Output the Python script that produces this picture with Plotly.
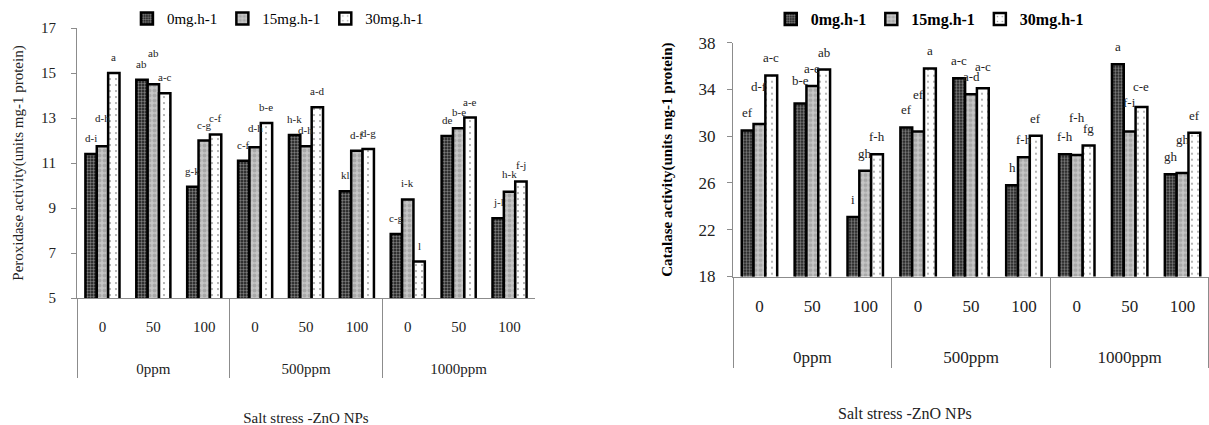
import plotly.graph_objects as go
from plotly.subplots import make_subplots

# ---------------- data ----------------
salt_groups = ["0ppm", "500ppm", "1000ppm"]
zno_levels = ["0", "50", "100"]
series_names = ["0mg.h-1", "15mg.h-1", "30mg.h-1"]

pod_0mg = [11.4, 14.7, 9.95, 11.1, 12.25, 9.75, 7.85, 12.2, 8.55]
pod_15mg = [11.75, 14.5, 12.0, 11.7, 11.75, 11.55, 9.38, 12.55, 9.72]
pod_30mg = [15.0, 14.1, 12.27, 12.78, 13.48, 11.62, 6.62, 13.02, 10.18]

pod_lab_0mg = ["d-i", "ab", "g-k", "c-f", "h-k", "kl", "c-g", "de", "j-l"]
pod_lab_15mg = ["d-h", "ab", "c-g", "d-h", "d-h", "d-f", "i-k", "b-e", "h-k"]
pod_lab_30mg = ["a", "a-c", "c-f", "b-e", "a-d", "d-g", "l", "a-e", "f-j"]

cat_0mg = [30.5, 32.8, 23.1, 30.75, 34.95, 25.8, 28.45, 36.15, 26.75]
cat_15mg = [31.05, 34.3, 27.05, 30.4, 33.6, 28.2, 28.4, 30.4, 26.85]
cat_30mg = [35.2, 35.7, 28.45, 35.8, 34.1, 30.05, 29.2, 32.5, 30.3]

cat_lab_0mg = ["ef", "b-e", "i", "ef", "a-c", "h", "f-h", "a", "gh"]
cat_lab_15mg = ["d-f", "a-e", "gh", "ef", "a-d", "f-h", "f-h", "f-i", "gh"]
cat_lab_30mg = ["a-c", "ab", "f-h", "a", "a-c", "ef", "fg", "c-e", "ef"]

x_title = "Salt stress -ZnO NPs"

# ---------------- styling ----------------
FONT = "Liberation Serif, Times New Roman, serif"
# extra lift (px) of some letter labels, as staggered in the reference
pod_lift = [[0] * 9,
            [12, 15, 0, 3, 0, 0, 0, 0, 2],
            [0] * 9]
cat_lift = [[0, 6, 0, 0, 0, 0, 0, 0, 0],
            [20, 0, 0, 20, 0, 0, 20, 12, 16],
            [0, 0, 0, 0, 4, 0, 0, 3, 0]]

# group names get leading blank lines so they sit lower, like the reference
x_groups = ["<br><br>" + g for g in salt_groups for _ in zno_levels]
x_levels = [z for _ in salt_groups for z in zno_levels]
xcats = [x_groups, x_levels]

patterns = [
    dict(shape=".", bgcolor="#151515", fgcolor="#e8e8e8", size=3, solidity=0.5),
    dict(shape=".", bgcolor="#c6c6c6", fgcolor="#8a8a8a", size=5, solidity=0.5),
    dict(shape=".", bgcolor="white", fgcolor="#333333", size=6, solidity=0.08),
]

fig = make_subplots(rows=1, cols=2)

bargap = 0.33
left_series = [pod_0mg, pod_15mg, pod_30mg]
right_series = [cat_0mg, cat_15mg, cat_30mg]
for i, name in enumerate(series_names):
    fig.add_trace(go.Bar(x=xcats, y=left_series[i], name=name, legend="legend",
                         marker=dict(color=patterns[i]["bgcolor"], pattern=patterns[i],
                                     line=dict(color="black", width=2.5))), row=1, col=1)
for i, name in enumerate(series_names):
    fig.add_trace(go.Bar(x=xcats, y=right_series[i], name=name, legend="legend2",
                         marker=dict(color=patterns[i]["bgcolor"], pattern=patterns[i],
                                     line=dict(color="black", width=2.5))), row=1, col=2)

# letter annotations
bw = (1 - bargap) / 3
offsets = [-bw, 0, bw]
annots = []
for s, (vals, labs) in enumerate(zip(left_series, [pod_lab_0mg, pod_lab_15mg, pod_lab_30mg])):
    for k, (v, t) in enumerate(zip(vals, labs)):
        annots.append(dict(x=k + offsets[s], y=v, xref="x", yref="y", text=t, showarrow=False,
                           yanchor="bottom", yshift=8 + pod_lift[s][k],
                           font=dict(family=FONT, size=11, color="#222")))
for s, (vals, labs) in enumerate(zip(right_series, [cat_lab_0mg, cat_lab_15mg, cat_lab_30mg])):
    for k, (v, t) in enumerate(zip(vals, labs)):
        annots.append(dict(x=k + offsets[s], y=v, xref="x2", yref="y2", text=t, showarrow=False,
                           yanchor="bottom", yshift=8 + cat_lift[s][k],
                           font=dict(family=FONT, size=13, color="#222")))
# right chart x title (offset to the left of the plot centre, as in the reference)
annots.append(dict(x=0.7486, y=0.028, xref="paper", yref="paper", text=x_title, showarrow=False,
                   xanchor="center", yanchor="middle", font=dict(family=FONT, size=16, color="#222")))

axis_grey = "#8c8c8c"
common_x = dict(type="multicategory", showline=True, linecolor=axis_grey, linewidth=1,
                showgrid=False, zeroline=False, showdividers=True, dividercolor=axis_grey,
                dividerwidth=1, range=[-0.5, 8.5], automargin=False)

fig.update_layout(
    width=1209, height=425, margin=dict(l=0, r=0, t=0, b=0, autoexpand=False),
    paper_bgcolor="white", plot_bgcolor="white",
    barmode="group", bargap=bargap, bargroupgap=0,
    font=dict(family=FONT, color="black"),
    annotations=annots,
    xaxis=dict(domain=[0.0637, 0.4425], **common_x, ticklabelstandoff=15,
               tickfont=dict(family=FONT, size=15, color="#222"),
               title=dict(text=x_title, font=dict(family=FONT, size=15, color="#222"), standoff=36)),
    yaxis=dict(domain=[0.2988, 0.934], range=[5, 17], tick0=5, dtick=2, showline=True,
               linecolor=axis_grey, ticks="outside", ticklen=5, tickcolor=axis_grey,
               ticklabelstandoff=12, showgrid=False, zeroline=False, automargin=False,
               tickfont=dict(family=FONT, size=15, color="#222"),
               title=dict(text="Peroxidase activity(units mg-1 protein)",
                          font=dict(family=FONT, size=15, color="#222"), standoff=13)),
    xaxis2=dict(domain=[0.6063, 1.0], **common_x, ticklabelstandoff=14,
                tickfont=dict(family=FONT, size=17, color="#222")),
    yaxis2=dict(domain=[0.3494, 0.8995], range=[18, 38], tick0=18, dtick=4, showline=True,
                linecolor=axis_grey, ticks="outside", ticklen=5, tickcolor=axis_grey,
                ticklabelstandoff=8, showgrid=False, zeroline=False, automargin=False,
                tickfont=dict(family=FONT, size=17, color="#222"),
                title=dict(text="Catalase activity(units mg-1 protein)",
                           font=dict(family=FONT, size=15, weight="bold"), standoff=22)),
    legend=dict(orientation="h", x=0.105, y=0.995, xanchor="left", yanchor="top",
                font=dict(family=FONT, size=15), bgcolor="rgba(0,0,0,0)", itemwidth=30),
    legend2=dict(orientation="h", x=0.6375, y=0.995, xanchor="left", yanchor="top",
                 font=dict(family=FONT, size=16, weight="bold"), bgcolor="rgba(0,0,0,0)",
                 itemwidth=30),
)

fig.write_html("out.html")
